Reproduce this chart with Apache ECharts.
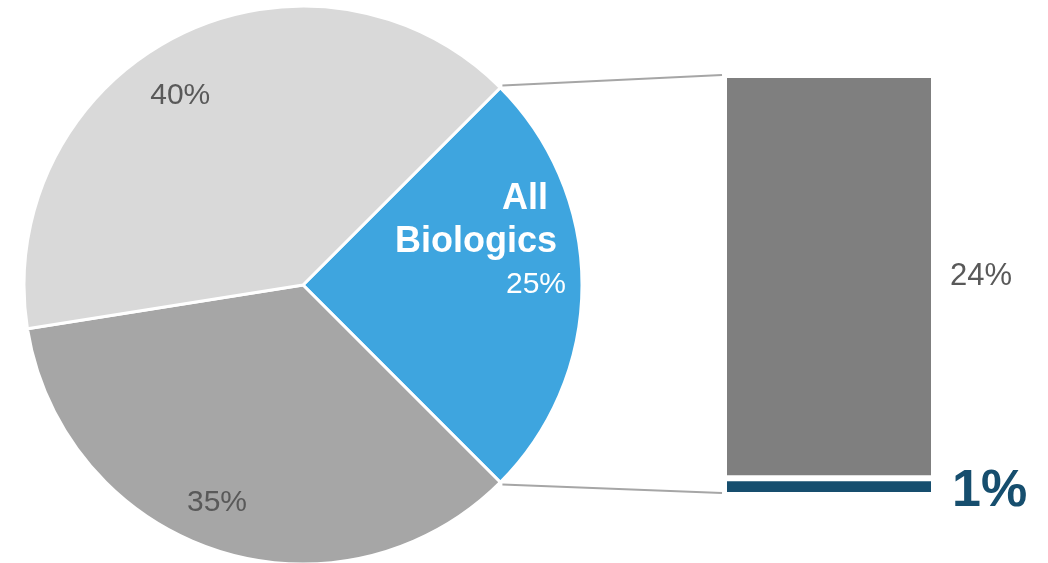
<!DOCTYPE html>
<html>
<head>
<meta charset="utf-8">
<script src="https://cdn.jsdelivr.net/npm/echarts@6/dist/echarts.min.js"></script>
<style>html,body{margin:0;padding:0;background:#fff}#c{width:1048px;height:563px}</style>
</head>
<body>
<div id="c"></div>
<script>
// Pie data (order clockwise from the blue slice)
const pieNames = ['All Biologics', 'Other A', 'Other B'];
const pieValues = [25, 35, 40];
const pieLabels = ['25%', '35%', '40%'];
// Breakdown bar (bottom to top)
const barNames = ['Segment 1', 'Segment 2'];
const barValues = [1, 24];
const barLabels = ['1%', '24%'];

const pieColors = ['#3ea5df', '#a6a6a6', '#d9d9d9'];
const barColors = ['#164e6e', '#7f7f7f'];
const CX = 303, CY = 285, R = 279, START = 45;
const FONT = 'Liberation Sans, Arial, sans-serif';
// label nudges per pie slice: [right padding, vertical shift]
const labelNudge = [[0, 0], [28, -4], [34, 17]];

const chart = echarts.init(document.getElementById('c'));

const transparentPie = (r0, r1, labelFn) => ({
  type: 'pie', silent: true, center: [CX, CY], radius: [r0, r1], startAngle: START,
  clockwise: true, avoidLabelOverlap: false, animation: false,
  itemStyle: { color: 'rgba(0,0,0,0)', borderWidth: 0 },
  emphasis: { disabled: true },
  labelLine: { show: false },
  data: pieNames.map((n, i) => ({ name: n, value: pieValues[i], label: labelFn(i) }))
});

function nudgedLabel(i) {
  const [pr, dy] = labelNudge[i];
  const v = '{v|' + pieLabels[i] + '}';
  let f = v;
  if (dy > 0) f = '{s|}\n' + v;
  else if (dy < 0) f = v + '\n{s|}';
  return {
    show: true, position: 'inside', formatter: f,
    rich: {
      v: { fontFamily: FONT, fontSize: 30, lineHeight: 36, color: i === 0 ? '#fff' : '#595959', padding: [0, pr, 0, 0] },
      s: { fontSize: 1, lineHeight: dy > 0 ? 36 : Math.abs(dy) * 2 }
    }
  };
}

chart.setOption({
  animation: false,
  grid: { left: 724, top: 75, width: 210, height: 420 },
  xAxis: { type: 'category', data: ['Breakdown'], show: false },
  yAxis: { type: 'value', min: 0, max: 25, show: false },
  series: [
    {
      type: 'pie', center: [CX, CY], radius: [0, R], startAngle: START, clockwise: true,
      silent: true, animation: false,
      label: { show: false }, labelLine: { show: false },
      itemStyle: { borderColor: '#fff', borderWidth: 3 },
      data: pieNames.map((n, i) => ({ name: n, value: pieValues[i], itemStyle: { color: pieColors[i] } }))
    },
    transparentPie(200, 260, nudgedLabel),
    transparentPie(143, 197, i => i === 0 ? ({
      show: true, position: 'inside',
      formatter: '{a|All}\n{b|Biologics}',
      padding: [0, 0, 128, 0],
      rich: {
        a: { fontFamily: FONT, fontSize: 36, fontWeight: 'bold', color: '#fff', align: 'right', lineHeight: 43, padding: [0, 9, 0, 0] },
        b: { fontFamily: FONT, fontSize: 36, fontWeight: 'bold', color: '#fff', align: 'right', lineHeight: 43 }
      }
    }) : ({ show: false })),
    ...barValues.map((v, i) => ({
      type: 'bar', name: barNames[i], stack: 'b', barWidth: '100%', silent: true,
      data: [v],
      itemStyle: { color: barColors[i], borderColor: '#fff', borderWidth: 3 },
      label: i === 0
        ? { show: true, position: 'right', distance: 18, formatter: barLabels[i], fontFamily: FONT, fontSize: 52, fontWeight: 'bold', color: barColors[0], offset: [0, 5] }
        : { show: true, position: 'right', distance: 16, formatter: barLabels[i], fontFamily: FONT, fontSize: 31, color: '#595959' }
    }))
  ]
});

// Connector lines from pie slice edges to bar corners
const total = pieValues.reduce((a, b) => a + b, 0);
const a1 = START * Math.PI / 180;
const a2 = (START - pieValues[0] / total * 360) * Math.PI / 180;
const barTotal = barValues.reduce((a, b) => a + b, 0);
const topPt = chart.convertToPixel({ gridIndex: 0 }, [0, barTotal]);
const botPt = chart.convertToPixel({ gridIndex: 0 }, [0, 0]);
const gx = 722;
chart.setOption({
  graphic: [
    { type: 'line', silent: true, z: -1, shape: { x1: CX + (R + 3) * Math.cos(a1), y1: CY - (R + 3) * Math.sin(a1), x2: gx, y2: topPt[1] }, style: { stroke: '#a6a6a6', lineWidth: 2 } },
    { type: 'line', silent: true, z: -1, shape: { x1: CX + (R + 3) * Math.cos(a2), y1: CY - (R + 3) * Math.sin(a2), x2: gx, y2: botPt[1] - 2 }, style: { stroke: '#a6a6a6', lineWidth: 2 } }
  ]
});
</script>
</body>
</html>
